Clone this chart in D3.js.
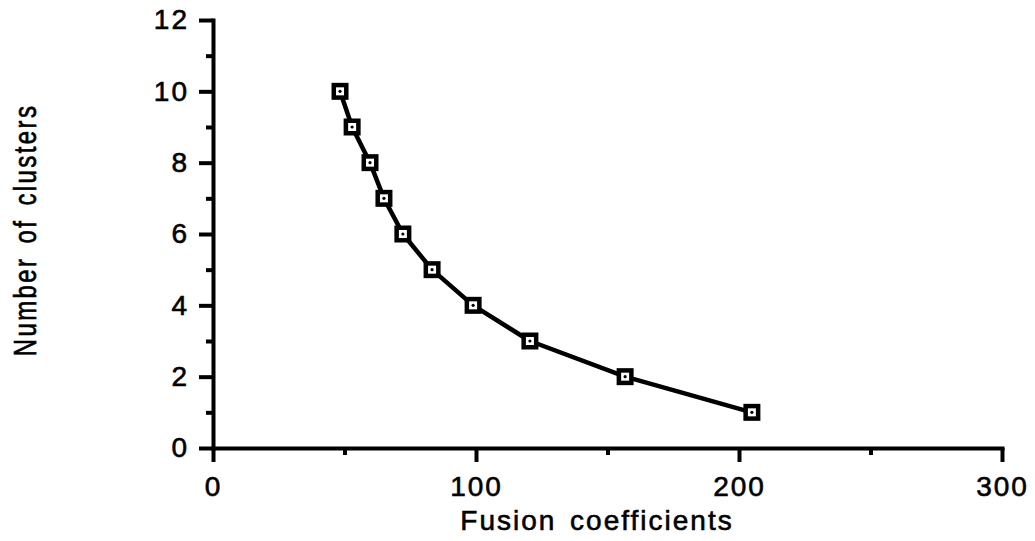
<!DOCTYPE html>
<html>
<head>
<meta charset="utf-8">
<script src="https://cdn.jsdelivr.net/npm/d3@7"></script>
<style>
  body { margin: 0; background: #fff; }
  svg text { font-family: "Liberation Sans", Arial, sans-serif; fill: #000; }
</style>
</head>
<body>
<svg id="chart" width="1035" height="541"></svg>
<script>
// number of clusters vs fusion coefficient
const clusters = [10, 9, 8, 7, 6, 5, 4, 3, 2, 1];
const fusion = [48.3, 52.9, 59.7, 65.0, 72.2, 83.3, 98.9, 120.5, 156.7, 204.9];

const xMajor = [0, 100, 200, 300];
const xMinor = [50, 150, 250];
const yMajor = [0, 2, 4, 6, 8, 10, 12];
const yMinor = [1, 3, 5, 7, 9, 11];

const svg = d3.select("#chart");

const x = d3.scaleLinear().domain([0, 300]).range([213, 1002]);
const y = d3.scaleLinear().domain([0, 12]).range([448, 20]);

const axisW = 4;

// x axis: major ticks with labels, then short minor ticks
const gx = svg.append("g").attr("transform", "translate(0,448)");
gx.call(d3.axisBottom(x).tickValues(xMajor).tickSize(14).tickSizeOuter(0).tickPadding(14).tickFormat(d3.format("d")));
const gx2 = svg.append("g").attr("transform", "translate(0,448)");
gx2.call(d3.axisBottom(x).tickValues(xMinor).tickSize(7).tickSizeOuter(0).tickFormat(""));
gx2.select(".domain").remove();

// y axis
const gy = svg.append("g").attr("transform", "translate(213,0)");
gy.call(d3.axisLeft(y).tickValues(yMajor).tickSize(14).tickSizeOuter(0).tickPadding(10).tickFormat(d3.format("d")));
const gy2 = svg.append("g").attr("transform", "translate(213,0)");
gy2.call(d3.axisLeft(y).tickValues(yMinor).tickSize(7).tickSizeOuter(0).tickFormat(""));
gy2.select(".domain").remove();

svg.selectAll(".domain").attr("stroke", "#000").attr("stroke-width", axisW).attr("stroke-linecap", "square");
svg.selectAll(".tick line").attr("stroke", "#000").attr("stroke-width", axisW);
svg.selectAll(".tick text")
  .attr("font-size", 28)
  .attr("letter-spacing", 2)
  .attr("stroke", "#000")
  .attr("stroke-width", 0.6)
  .attr("font-family", "Liberation Sans, Arial, sans-serif");
gx.selectAll(".tick text").attr("dy", "0.71em");

// axis titles (the scan is stretched sideways a bit)
svg.append("text")
  .attr("x", 597)
  .attr("y", 530)
  .attr("text-anchor", "middle")
  .attr("font-size", 28)
  .attr("letter-spacing", 2)
  .attr("word-spacing", 4)
  .attr("stroke", "#000")
  .attr("stroke-width", 0.6)
  .text("Fusion coefficients");

svg.append("text")
  .attr("transform", "translate(36,230) rotate(-90) scale(1,1.3)")
  .attr("text-anchor", "middle")
  .attr("font-size", 24)
  .attr("letter-spacing", 2.4)
  .attr("word-spacing", 4)
  .attr("stroke", "#000")
  .attr("stroke-width", 0.5)
  .text("Number of clusters");

// line + square markers
const pts = fusion.map((f, i) => ({ f: f, c: clusters[i] }));

svg.append("path")
  .datum(pts)
  .attr("fill", "none")
  .attr("stroke", "#000")
  .attr("stroke-width", 4.5)
  .attr("stroke-linejoin", "round")
  .attr("d", d3.line().x(d => x(d.f)).y(d => y(d.c)));

const mk = svg.append("g").selectAll("g").data(pts).join("g")
  .attr("transform", d => "translate(" + x(d.f) + "," + y(d.c) + ")");
mk.append("rect")
  .attr("x", -6.25).attr("y", -6.25)
  .attr("width", 12.5).attr("height", 12.5)
  .attr("fill", "#fff")
  .attr("stroke", "#000")
  .attr("stroke-width", 4.5);
mk.append("circle")
  .attr("r", 1.6)
  .attr("fill", "#000");
</script>
</body>
</html>
